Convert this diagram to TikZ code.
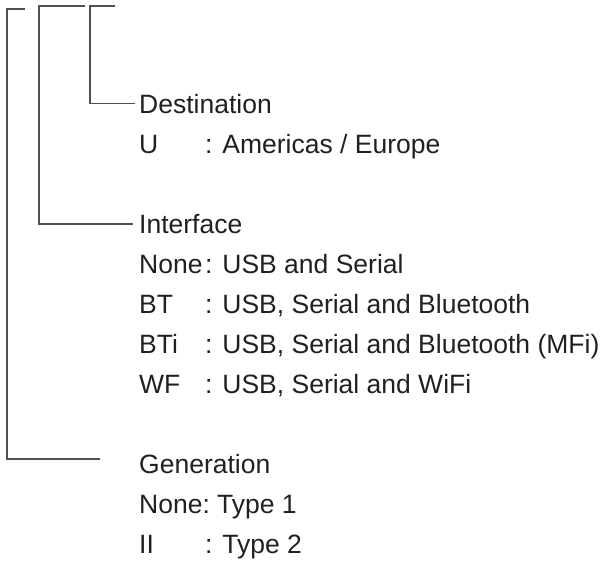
\documentclass[tikz,border=0pt]{standalone}
\usepackage{fontspec}
\setmainfont{Liberation Sans}
\definecolor{txt}{HTML}{231F20}
\definecolor{ln}{HTML}{505050}
\begin{document}
\begin{tikzpicture}[x=1pt,y=-1pt,
  lbl/.style={anchor=base west,inner sep=0pt,text=txt,font=\fontsize{26.5}{30}\selectfont},
  brk/.style={draw=ln,line width=1.1pt}]
\useasboundingbox (0,0) rectangle (604,560);
% Destination
\node[lbl] (dest) at (139,113) {Destination};
\node[lbl] (dU) at (139,153) {U};
\node[lbl] (dUt) at (205,153) {: Americas / Europe};
% Interface
\node[lbl] (intf) at (139,233) {Interface};
\node[lbl] (iN) at (139,273) {None};
\node[lbl] (iNt) at (205,273) {: USB and Serial};
\node[lbl] (iBT) at (139,313) {BT};
\node[lbl] (iBTt) at (205,313) {: USB, Serial and Bluetooth};
\node[lbl] (iBTi) at (139,353) {BTi};
\node[lbl] (iBTit) at (205,353) {: USB, Serial and Bluetooth (MFi)};
\node[lbl] (iWF) at (139,393) {WF};
\node[lbl] (iWFt) at (205,393) {: USB, Serial and WiFi};
% Generation
\node[lbl] (gen) at (139,473) {Generation};
\node[lbl] (gN) at (139,513) {None:};
\node[lbl] (gNt) at (217,513) {Type 1};
\node[lbl] (gII) at (139,553) {II};
\node[lbl] (gIIt) at (205,553) {: Type 2};
% bracket corner coordinates
\coordinate (t3a) at (115,6);
\coordinate (t3b) at (90,6);
\coordinate (e3) at (135,103.5);
\coordinate (t2a) at (85,6);
\coordinate (t2b) at (39,6);
\coordinate (e2) at (133,224);
\coordinate (t1a) at (25,9);
\coordinate (t1b) at (7,9);
\coordinate (e1) at (100,459);
% brackets
\draw[brk] (t3a) -- (t3b) |- (e3);
\draw[brk] (t2a) -- (t2b) |- (e2);
\draw[brk] (t1a) -- (t1b) |- (e1);
\end{tikzpicture}
\end{document}
